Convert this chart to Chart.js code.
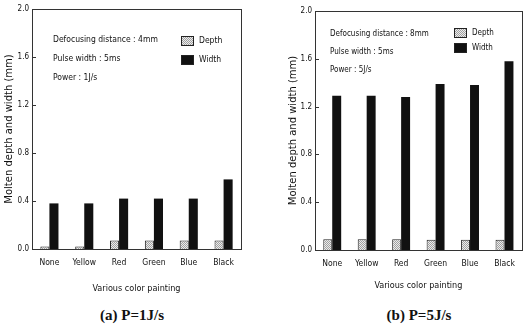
<!DOCTYPE html>
<html>
<head>
<meta charset="utf-8">
<script src="https://cdn.jsdelivr.net/npm/chart.js@4.4.1/dist/chart.umd.min.js"></script>
<style>
  body { margin: 0; background: #fff; width: 524px; height: 331px; overflow: hidden; position: relative; }
  canvas { position: absolute; top: 0; }
  #chartA { left: 0; }
  #chartB { left: 262px; }
  .caption { position: absolute; top: 307px; width: 200px; text-align: center;
             font: bold 15px "Liberation Serif", "DejaVu Serif", serif; color: #111; }
</style>
</head>
<body>
<canvas id="chartA" width="262" height="300"></canvas>
<canvas id="chartB" width="262" height="300"></canvas>
<div class="caption" style="left:32px">(a) P=1J/s</div>
<div class="caption" style="left:319px">(b) P=5J/s</div>
<script>
const categories = ["None", "Yellow", "Red", "Green", "Blue", "Black"];
const depthAt1 = [0.02, 0.02, 0.07, 0.07, 0.07, 0.07];
const widthAt1 = [0.38, 0.38, 0.42, 0.42, 0.42, 0.58];
const depthAt5 = [0.09, 0.09, 0.09, 0.085, 0.085, 0.085];
const widthAt5 = [1.29, 1.29, 1.28, 1.39, 1.38, 1.58];
const yTicks = [0, 0.4, 0.8, 1.2, 1.6, 2.0];
const notesA = ["Defocusing distance : 4mm", "Pulse width : 5ms", "Power : 1J/s"];
const notesB = ["Defocusing distance : 8mm", "Pulse width : 5ms", "Power : 5J/s"];

const narrow = "'Liberation Sans Narrow', 'DejaVu Sans Condensed', 'Liberation Sans', Arial, sans-serif";
Chart.defaults.font.family = narrow;
Chart.defaults.color = "#111";

// speckled light fill used for the depth bars
function dottedFill(ctx) {
  const pc = document.createElement("canvas");
  pc.width = 2; pc.height = 2;
  const p = pc.getContext("2d");
  p.fillStyle = "#ececec";
  p.fillRect(0, 0, 2, 2);
  p.fillStyle = "#a0a0a0";
  p.fillRect(0, 0, 1, 1);
  p.fillRect(1, 1, 1, 1);
  return ctx.createPattern(pc, "repeat");
}

const framePlugin = {
  id: "frame",
  afterDraw(chart, args, opts) {
    const ctx = chart.ctx;
    const a = chart.chartArea;
    ctx.save();
    ctx.strokeStyle = "#333";
    ctx.lineWidth = 1;
    ctx.strokeRect(Math.round(a.left) + 0.5, Math.round(a.top) + 0.5,
                   Math.round(a.right - a.left), Math.round(a.bottom - a.top));
    // inward tick marks
    const ys = chart.scales.y;
    ys.ticks.forEach(t => {
      const y = Math.round(ys.getPixelForValue(t.value)) + 0.5;
      ctx.beginPath();
      ctx.moveTo(a.left, y);
      ctx.lineTo(a.left + 4, y);
      ctx.stroke();
    });
    // notes
    ctx.fillStyle = "#111";
    ctx.font = opts.fontSize + "px " + narrow;
    ctx.textBaseline = "middle";
    opts.notes.forEach((n, i) => ctx.fillText(n, opts.noteX, opts.noteY + i * opts.noteStep));
    // legend
    chart.data.datasets.forEach((ds, i) => {
      const y = opts.legY + i * opts.legStep;
      ctx.fillStyle = ds.backgroundColor;
      ctx.fillRect(opts.legX, y - 5, 13, 10);
      ctx.strokeStyle = "#222";
      ctx.strokeRect(opts.legX + 0.5, y - 4.5, 12, 9);
      ctx.fillStyle = "#111";
      ctx.fillText(ds.label, opts.legX + 18, y);
    });
    ctx.restore();
  }
};

function makeChart(id, depth, width, frame, pad, yW, xH, xTitleLift) {
  const ctx = document.getElementById(id).getContext("2d");
  return new Chart(ctx, {
    type: "bar",
    data: {
      labels: categories,
      datasets: [
        { label: "Depth", data: depth, backgroundColor: dottedFill(ctx),
          borderColor: "#222", borderWidth: 1, borderSkipped: "bottom" },
        { label: "Width", data: width, backgroundColor: "#111", borderWidth: 0 }
      ]
    },
    options: {
      responsive: false,
      animation: false,
      devicePixelRatio: 1,
      categoryPercentage: 0.52,
      barPercentage: 1.0,
      layout: { padding: pad },
      plugins: {
        legend: { display: false },
        tooltip: { enabled: false },
        frame: frame
      },
      scales: {
        x: {
          grid: { display: false, drawTicks: false, tickLength: 0 },
          border: { display: true, color: "#222" },
          ticks: { font: { size: 8.5 }, padding: 9 },
          title: { display: true, text: "Various color painting", font: { size: 9 },
                   padding: { top: 2, bottom: xTitleLift } },
          afterFit: s => { s.height = xH; }
        },
        y: {
          min: 0, max: 2,
          afterBuildTicks: s => { s.ticks = yTicks.map(v => ({ value: v })); },
          grid: { display: false, drawTicks: false, tickLength: 0 },
          border: { display: true, color: "#222" },
          ticks: { font: { size: 8 }, padding: 3, callback: v => v.toFixed(1) },
          title: { display: true, text: "Molten depth and width (mm)",
                   font: { family: "'DejaVu Sans', Arial, sans-serif", size: 10 }, padding: { top: 3, bottom: 0 } },
          afterFit: s => { s.width = yW; }
        }
      }
    },
    plugins: [framePlugin]
  });
}

makeChart("chartA", depthAt1, widthAt1,
  { notes: notesA, fontSize: 8.5, noteX: 53, noteY: 40, noteStep: 19, legX: 181, legY: 41, legStep: 19 },
  { left: 0, right: 21, top: 9, bottom: 0 }, 32, 51, 6);

makeChart("chartB", depthAt5, widthAt5,
  { notes: notesB, fontSize: 8, noteX: 68, noteY: 34, noteStep: 18, legX: 192, legY: 33, legStep: 15 },
  { left: 22, right: 2, top: 11, bottom: 0 }, 31, 50, 9);
</script>
</body>
</html>
